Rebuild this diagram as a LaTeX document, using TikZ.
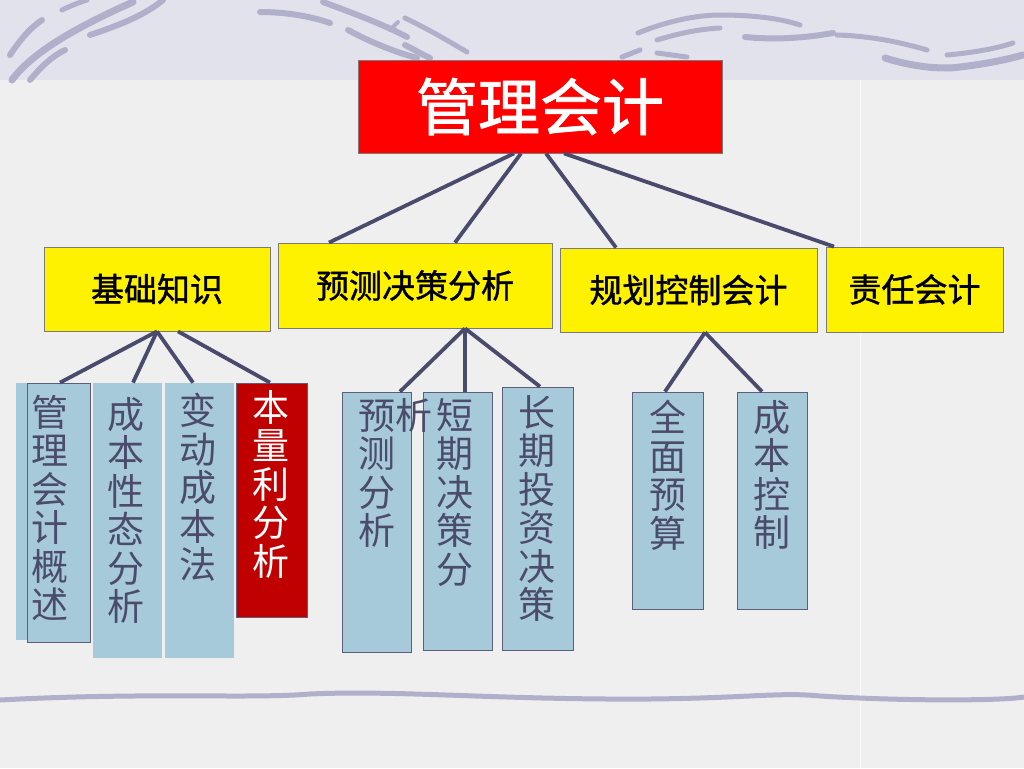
\documentclass[tikz,border=0pt]{standalone}
\usepackage{fontspec}
\newfontfamily\cjk{Noto Sans CJK SC}
\newfontfamily\cjkb{Noto Sans CJK SC}[FakeBold=1.2]
\usetikzlibrary{calc}
\definecolor{bandc}{HTML}{E2E2EC}
\definecolor{bgc}{HTML}{EFEFEF}
\definecolor{swoosh}{HTML}{B0B0CB}
\definecolor{linec}{HTML}{4A4A6C}
\definecolor{boxblue}{HTML}{A6CAD9}
\definecolor{boxline}{HTML}{5E5E7A}
\definecolor{txtc}{HTML}{4B4B6B}
\definecolor{darkred}{HTML}{C00000}
\definecolor{ygray}{HTML}{7A7A7A}
\tikzset{
  sz/.style 2 args={minimum width=#1pt, minimum height=#2pt},
  topbox/.style={draw=ygray, line width=0.8pt, fill=red, text=white, inner sep=0pt, font=\cjkb\fontsize{62}{62}\selectfont},
  ybox/.style={draw=ygray, line width=0.8pt, fill=yellow, text=black, inner sep=0pt, font=\cjkb\fontsize{33}{33}\selectfont},
  bbox/.style={draw=boxline, line width=0.8pt, fill=boxblue, inner sep=0pt},
  rbox/.style={draw=boxline, line width=0.8pt, fill=darkred, inner sep=0pt},
  vtext/.style={text=txtc, inner sep=0pt, align=center, font=\cjk\fontsize{37}{38.5}\selectfont, anchor=north},
  conn/.style={draw=linec, line width=3.8pt},
  sw/.style={draw=swoosh, line width=#1pt, line cap=round},
  sw/.default=6,
}
\begin{document}
\begin{tikzpicture}[x=1pt,y=-1pt]
\useasboundingbox (0,0) rectangle (1024,768);
% background
\fill[bgc] (0,0) rectangle (1024,768);
\fill[bandc] (0,0) rectangle (1024,80);
\draw[white, line width=1pt, opacity=0.6] (860,80) -- (860,768);
% swooshes (top band)
\draw[sw=6] (10,55) .. controls (20,40) and (30,28) .. (42,20);
\draw[sw=7] (12,80) .. controls (30,55) and (70,30) .. (133,2);
\draw[sw=5] (62,10) .. controls (70,6) and (78,3) .. (87,0);
\draw[sw=6] (90,35) .. controls (120,25) and (145,15) .. (163,0);
\draw[sw=6] (30,80) .. controls (40,68) and (52,56) .. (65,50);
\draw[sw=6] (260,12) .. controls (285,12) and (310,16) .. (330,23);
\draw[sw=6] (323,2) .. controls (350,12) and (385,25) .. (407,37);
\draw[sw=4] (390,30) -- (398,22);
\draw[sw=6] (348,30) .. controls (370,42) and (395,52) .. (417,58);
\draw[sw=5] (405,18) .. controls (430,30) and (450,42) .. (467,52);
\draw[sw=6] (405,45) .. controls (415,50) and (423,55) .. (430,58);
\draw[sw=5] (638,33) .. controls (665,22) and (695,15) .. (720,15) .. controls (760,15) and (785,20) .. (800,25);
\draw[sw=5] (657,40) .. controls (680,33) and (700,29) .. (720,28);
\draw[sw=6] (745,37) .. controls (775,40) and (805,38) .. (833,33);
\draw[sw=5] (837,35) .. controls (870,36) and (900,42) .. (927,50);
\draw[sw=7] (885,58) .. controls (910,66) and (940,70) .. (960,67) .. controls (985,64) and (1005,60) .. (1023,55);
\draw[sw=5] (947,55) .. controls (970,53) and (995,49) .. (1013,43);
\draw[sw=5] (622,57) -- (640,50);
\draw[sw=5] (657,53) -- (687,57);
% bottom wave
\draw[draw=swoosh, line width=5pt] (0,700) .. controls (150,692) and (250,699) .. (310,694)
  .. controls (400,690) and (500,700) .. (650,699) .. controls (750,698) and (780,692) .. (820,696)
  .. controls (900,701) and (1000,701) .. (1024,697);
% top box
\node[topbox, sz={364}{93}] (top) at (540,106.5) {管理会计};
% second level
\node[ybox, sz={226}{84}] (y1) at (157,289) {基础知识};
\node[ybox, sz={274}{85}] (y2) at (415,285.5) {预测决策分析};
\node[ybox, sz={257}{84}] (y3) at (688.5,290) {规划控制会计};
\node[ybox, sz={177}{85}] (y4) at (914.5,289.5) {责任会计};
% third level boxes
\fill[boxblue] (16,383) rectangle (88,640);
\node[bbox, sz={63}{259}] (b1) at (58.5,512.5) {};
\node[bbox, draw=boxblue, sz={68}{274}] (b2) at (127,520) {};
\node[bbox, draw=boxblue, sz={68}{274}] (b3) at (199,520) {};
\node[rbox, sz={71}{234}] (b4) at (271.5,500) {};
\node[bbox, sz={69}{260}] (b5) at (376.5,522) {};
\node[bbox, sz={69}{258}] (b6) at (457.5,521) {};
\node[bbox, sz={71}{263}] (b7) at (537.5,518.5) {};
\node[bbox, sz={71}{217}] (b8) at (667.5,500.5) {};
\node[bbox, sz={70}{217}] (b9) at (772,500.5) {};
% vertical texts
\node[vtext] (t1) at (50,395) {管\\理\\会\\计\\概\\述};
\node[vtext] (t2) at (126,397) {成\\本\\性\\态\\分\\析};
\node[vtext] (t3) at (198,393) {变\\动\\成\\本\\法};
\node[vtext, text=white] (t4) at (271,390) {本\\量\\利\\分\\析};
\node[vtext, align=left, anchor=north west] (t5) at (358,398) {预析\\测\\分\\析};
\node[vtext] (t6) at (455,398) {短\\期\\决\\策\\分};
\node[vtext] (t7) at (537,395) {长\\期\\投\\资\\决\\策};
\node[vtext] (t8) at (668,400) {全\\面\\预\\算};
\node[vtext] (t9) at (772,400) {成\\本\\控\\制};
% connectors
\draw[conn] ($(top.south)+(-26,0)$) -- ($(y2.north)+(-86,0)$);
\draw[conn] ($(top.south)+(-19,0)$) -- ($(y2.north)+(40,0)$);
\draw[conn] ($(top.south)+(6,0)$) -- ($(y3.north)+(-72.5,0)$);
\draw[conn] ($(top.south)+(24,0)$) -- ($(y4.north)+(-80.5,0)$);
\draw[conn] (y1.south) -- ($(b1.north)+(1.5,0)$);
\draw[conn] (y1.south) -- ($(b2.north)+(6,0)$);
\draw[conn] (y1.south) -- ($(b3.north)+(-6,0)$);
\draw[conn] ($(y1.south)+(21,0)$) -- ($(b4.north)+(-1.5,0)$);
\draw[conn] ($(y2.south)+(50,0)$) -- ($(b5.north)+(23.5,0)$);
\draw[conn] ($(y2.south)+(50,0)$) -- ($(b6.north)+(7.5,0)$);
\draw[conn] ($(y2.south)+(50,0)$) -- ($(b7.north)+(2.5,0)$);
\draw[conn] ($(y3.south)+(16.5,0)$) -- ($(b8.north)+(-2.5,0)$);
\draw[conn] ($(y3.south)+(16.5,0)$) -- ($(b9.north)+(-10,0)$);
\end{tikzpicture}
\end{document}
